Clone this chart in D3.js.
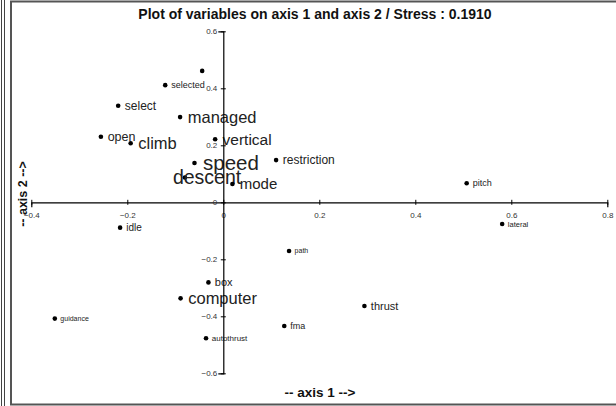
<!DOCTYPE html>
<html>
<head>
<meta charset="utf-8">
<script src="https://cdn.jsdelivr.net/npm/d3@7"></script>
<style>
  body { margin: 0; background: #fff; }
  text { font-family: "Liberation Sans", Arial, sans-serif; }
</style>
</head>
<body>
<script>
// variable names, coordinates on axis 1 / axis 2, and label sizes
const names = ['', 'selected', 'select', 'managed', 'open', 'climb', 'vertical', 'speed',
  'restriction', 'descent', 'mode', 'pitch', 'lateral', 'idle', 'path', 'box',
  'computer', 'thrust', 'guidance', 'fma', 'autothrust'];
const axis1 = [-0.044, -0.121, -0.219, -0.090, -0.255, -0.193, -0.017, -0.060,
  0.110, -0.080, 0.019, 0.507, 0.581, -0.215, 0.137, -0.031,
  -0.089, 0.294, -0.351, 0.127, -0.036];
const axis2 = [0.461, 0.411, 0.339, 0.299, 0.230, 0.207, 0.221, 0.138,
  0.148, 0.087, 0.064, 0.067, -0.076, -0.089, -0.171, -0.281,
  -0.337, -0.364, -0.408, -0.434, -0.477];
const labelSize = [9, 9, 12, 16.5, 12.5, 16.5, 15.5, 20.5,
  12, 19.5, 15, 9, 7.5, 10, 7, 11,
  16.5, 11, 7, 9, 8];
const xTicks = [-0.4, -0.2, 0, 0.2, 0.4, 0.6, 0.8];
const yTicks = [-0.6, -0.4, -0.2, 0, 0.2, 0.4, 0.6];

const width = 616, height = 406;

const svg = d3.select('body').append('svg')
  .attr('width', width)
  .attr('height', height);

// outer double line on the left and the plot frame
svg.append('line').attr('x1', 1.5).attr('x2', 1.5).attr('y1', 0).attr('y2', height)
  .attr('stroke', '#444').attr('stroke-width', 1);
svg.append('line').attr('x1', 4.5).attr('x2', 4.5).attr('y1', 0).attr('y2', height)
  .attr('stroke', '#444').attr('stroke-width', 1);
svg.append('rect')
  .attr('x', 11).attr('y', 1.5)
  .attr('width', 620).attr('height', 403)
  .attr('fill', 'none')
  .attr('stroke', '#555')
  .attr('stroke-width', 2);

const x = d3.scaleLinear().domain([-0.4, 0.8]).range([31.3, 607.3]);
const y = d3.scaleLinear().domain([-0.6, 0.6]).range([373.3, 31.3]);

const points = names.map((n, i) => ({ name: n, a1: axis1[i], a2: axis2[i], size: labelSize[i] }));

// title and axis titles
svg.append('text')
  .attr('x', 315).attr('y', 19)
  .attr('text-anchor', 'middle')
  .style('font-size', '14px').style('font-weight', 'bold')
  .attr('fill', '#111')
  .text('Plot of variables on axis 1 and axis 2 / Stress : 0.1910');

svg.append('text')
  .attr('x', 320).attr('y', 397)
  .attr('text-anchor', 'middle')
  .style('font-size', '13.5px').style('font-weight', 'bold')
  .attr('fill', '#111')
  .text('-- axis 1 -->');

svg.append('text')
  .attr('transform', 'translate(27,194) rotate(-90)')
  .attr('text-anchor', 'middle')
  .style('font-size', '12.5px').style('font-weight', 'bold')
  .attr('fill', '#111')
  .text('-- axis 2 -->');

// points and labels
const g = svg.selectAll('.pt')
  .data(points)
  .enter().append('g')
  .attr('class', 'pt');

g.append('circle')
  .attr('cx', d => x(d.a1))
  .attr('cy', d => y(d.a2))
  .attr('r', 2.3)
  .attr('fill', '#000');

g.append('text')
  .attr('x', d => x(d.a1) + (d.name === 'descent' ? -12 : 4 + d.size * 0.22))
  .attr('y', d => y(d.a2))
  .attr('dy', '0.35em')
  .style('font-size', d => d.size + 'px')
  .attr('fill', '#222')
  .text(d => d.name);

// axes crossing at the origin
const xAxis = svg.append('g')
  .attr('transform', `translate(0,${y(0)})`)
  .call(d3.axisBottom(x).tickValues(xTicks).tickSize(5).tickFormat(d3.format('')));
xAxis.selectAll('.tick line').attr('y1', -2.5).attr('y2', 2.5);
xAxis.selectAll('.tick text').attr('y', 10);

const yAxis = svg.append('g')
  .attr('transform', `translate(${x(0)},0)`)
  .call(d3.axisLeft(y).tickValues(yTicks).tickSize(5).tickFormat(d3.format('')));
yAxis.selectAll('.tick line').attr('x1', -2.5).attr('x2', 2.5);
yAxis.selectAll('.tick text').attr('x', -6);

[xAxis, yAxis].forEach(ax => {
  ax.select('.domain').attr('stroke', '#000').attr('stroke-width', 1.2);
  ax.selectAll('.tick line').attr('stroke', '#000');
  ax.selectAll('.tick text')
    .style('font-size', '8px')
    .style('font-family', '"Liberation Sans", Arial, sans-serif')
    .attr('fill', '#333');
});
</script>
</body>
</html>
